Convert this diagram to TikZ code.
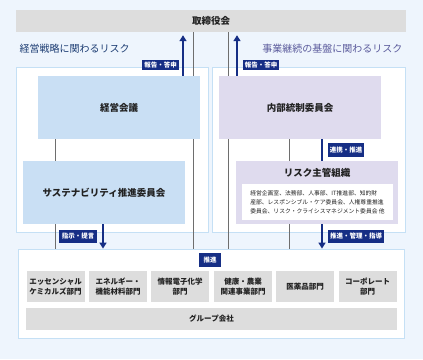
\documentclass[tikz,border=0pt]{standalone}
\usepackage{fontspec}
\setmainfont{Noto Sans CJK JP}
\usetikzlibrary{arrows.meta,positioning,calc}

\definecolor{bgblue}{RGB}{238,245,253}
\definecolor{edgeblue}{RGB}{197,224,245}
\definecolor{boardgray}{RGB}{221,221,221}
\definecolor{mgmtblue}{RGB}{201,223,244}
\definecolor{lavender}{RGB}{223,219,238}
\definecolor{navy}{RGB}{22,46,133}
\definecolor{titleblue}{RGB}{29,61,115}
\definecolor{titlepurple}{RGB}{91,91,156}
\definecolor{linegray}{RGB}{110,110,110}
\definecolor{inkgray}{RGB}{34,34,34}

\begin{document}
\begin{tikzpicture}[
  x=1pt, y=-1pt,
  font=\fontsize{9.5}{11}\selectfont\bfseries,
  panel/.style={draw=edgeblue, line width=0.8pt, fill=white, minimum height=165pt},
  graybar/.style={fill=boardgray, text=inkgray, minimum height=22pt},
  bluebox/.style={fill=mgmtblue, text=inkgray, minimum width=162pt, minimum height=63pt},
  lavbox/.style={fill=lavender, text=inkgray, minimum width=162pt, minimum height=63pt},
  divbox/.style={fill=boardgray, text=inkgray, minimum width=58pt, minimum height=31pt,
    align=center, inner sep=1pt, font=\fontsize{7.5}{10}\selectfont\bfseries},
  tag/.style={fill=navy, text=white, minimum height=10pt, inner sep=1.5pt,
    font=\fontsize{6.5}{7}\selectfont\bfseries},
  vline/.style={draw=linegray, line width=0.8pt},
  uparrow/.style={draw=navy, line width=1.7pt, -{Triangle[width=7pt,length=6pt]}},
  linkbar/.style={draw=navy, line width=1.8pt}
]

\fill[bgblue] (0,0) rectangle (423,359);
\useasboundingbox (0,0) rectangle (423,359);

% top: board
\node[graybar, minimum width=390pt] (board) at (211,21) {取締役会};

\node[anchor=west, text=titleblue, font=\fontsize{10}{12}\selectfont] (lefttitle) at (16,49) {経営戦略に関わるリスク};
\node[anchor=east, text=titlepurple, font=\fontsize{10}{12}\selectfont] (righttitle) at (406,49) {事業継続の基盤に関わるリスク};

% panels
\node[panel, minimum width=192pt] (leftpanel) at (112,149.5) {};
\node[panel, minimum width=193pt] (rightpanel) at (308.5,149.5) {};
\node[draw=edgeblue, line width=0.8pt, fill=white, minimum width=386pt, minimum height=89pt] (bottompanel) at (211,293.5) {};

% committees
\node[bluebox] (mgmt) at (119,107.5) {経営会議};
\node[lavbox] (intctrl) at (300,107.5) {内部統制委員会};
\node[bluebox] (sust) at (104,192.5) {サステナビリティ推進委員会};
\node[lavbox] (riskorg) at (317,192.5) {};
\node[text=inkgray] (risktitle) at (317,173) {リスク主管組織};
\node[fill=white, minimum width=151pt, minimum height=36pt, inner sep=2pt, align=left,
  text=inkgray, font=\fontsize{5.8}{9}\selectfont] (riskmembers) at (317.5,202)
  {経営企画室、法務部、人事部、IT推進部、知的財\\産部、レスポンシブル・ケア委員会、人権尊重推進\\委員会、リスク・クライシスマネジメント委員会 他};

% gray connectors
\coordinate (xa) at (193,0);
\coordinate (xb) at (228,0);
\coordinate (xc) at (55,0);
\coordinate (xd) at (289,0);
\draw[vline] (board.south -| xa) -- (mgmt.north -| xa);
\draw[vline] (mgmt.south -| xa) -- (bottompanel.north -| xa);
\draw[vline] (board.south -| xb) -- (intctrl.north -| xb);
\draw[vline] (intctrl.south -| xb) -- (bottompanel.north -| xb);
\draw[vline] (mgmt.south -| xc) -- (sust.north -| xc);
\draw[vline] (sust.south -| xc) -- (bottompanel.north -| xc);
\draw[vline] (intctrl.south -| xd) -- (riskorg.north -| xd);
\draw[vline] (riskorg.south -| xd) -- (bottompanel.north -| xd);

% navy arrows and tags
\coordinate (ya) at (183,0);
\coordinate (yb) at (237,0);
\coordinate (yc) at (322,0);
\coordinate (yd) at (103,0);
\draw[uparrow] (mgmt.north -| ya) -- ($(board.south -| ya)+(0,3)$);
\draw[uparrow] (intctrl.north -| yb) -- ($(board.south -| yb)+(0,3)$);
\draw[linkbar] (intctrl.south -| yc) -- (riskorg.north -| yc);
\draw[uparrow] (sust.south -| yd) -- (bottompanel.north -| yd);
\draw[uparrow] (riskorg.south -| yc) -- (bottompanel.north -| yc);

\node[tag, minimum width=37pt] (tagleft) at (160.5,65) {報告・答申};
\node[tag, minimum width=36pt] (tagright) at (261,65) {報告・答申};
\node[tag, minimum width=36pt, minimum height=14pt] (taglink) at (346,150) {連携・推進};
\node[tag, minimum width=38pt, minimum height=13pt] (tagorder) at (78,236.5) {指示・提言};
\node[tag, minimum width=56pt, minimum height=13pt] (tagmanage) at (356,236.5) {推進・管理・指導};
\node[tag, minimum width=22pt, minimum height=14pt] (tagpromote) at (210,260) {推進};

% divisions
\node[divbox] (div1) at (55.5,286.5) {エッセンシャル\\ケミカルズ部門};
\node[divbox] (div2) at (118,286.5) {エネルギー・\\機能材料部門};
\node[divbox] (div3) at (180,286.5) {情報電子化学\\部門};
\node[divbox] (div4) at (243,286.5) {健康・農業\\関連事業部門};
\node[divbox] (div5) at (305,286.5) {医薬品部門};
\node[divbox] (div6) at (367.5,286.5) {コーポレート\\部門};
\node[graybar, minimum width=371pt, font=\fontsize{7.5}{9}\selectfont\bfseries] (group) at (211.5,319) {グループ会社};

\end{tikzpicture}
\end{document}
